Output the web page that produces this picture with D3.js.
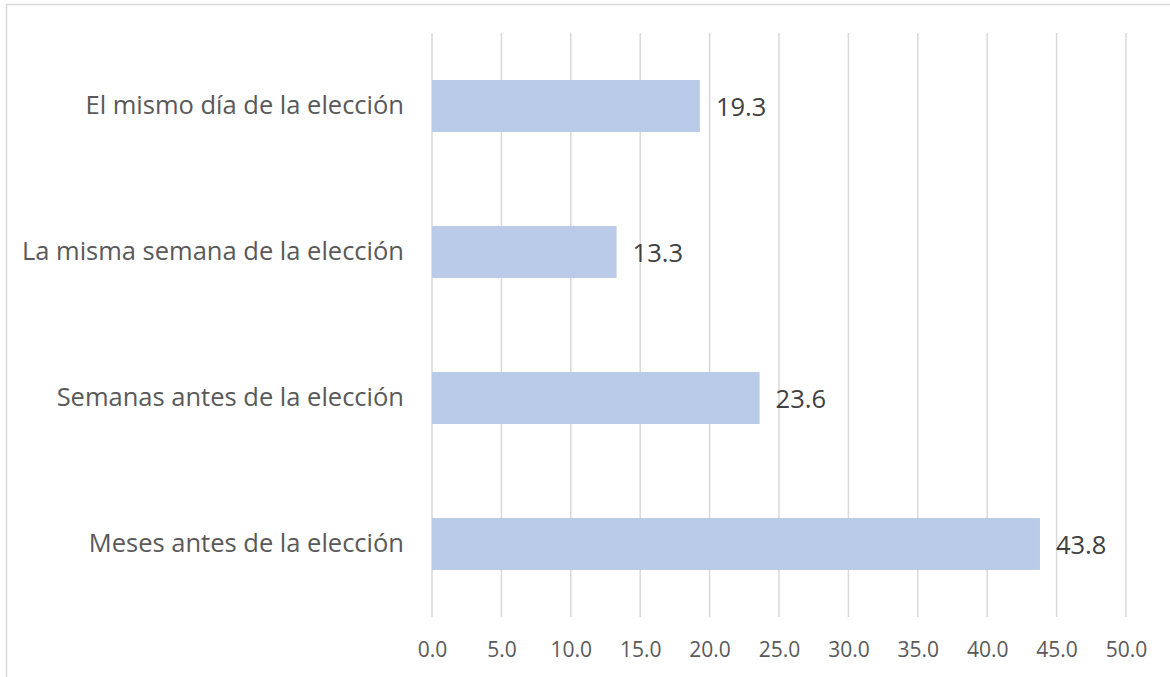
<!DOCTYPE html>
<html>
<head>
<meta charset="utf-8">
<script src="https://cdn.jsdelivr.net/npm/d3@7"></script>
<style>
  body { margin: 0; background: #fff; }
  svg { display: block; }
  text { font-family: "Open Sans", "Liberation Sans", sans-serif; }
</style>
</head>
<body>
<svg id="chart" width="1170" height="677"></svg>
<script>
const categories = [
    "El mismo día de la elección",
    "La misma semana de la elección",
    "Semanas antes de la elección",
    "Meses antes de la elección"
];
const values = [19.3, 13.3, 23.6, 43.8];
const ticks = [0, 5, 10, 15, 20, 25, 30, 35, 40, 45, 50];

const svg = d3.select("#chart");
const margin = { top: 33, left: 432 };

// chart area border (cut off on the right and bottom)
svg.append("rect")
    .attr("x", 6.5).attr("y", 4.5)
    .attr("width", 1300).attr("height", 800)
    .attr("fill", "none")
    .attr("stroke", "#d9d9d9")
    .attr("stroke-width", 1.5);

const g = svg.append("g").attr("transform", `translate(${margin.left},${margin.top})`);

const x = d3.scaleLinear().domain([0, 50]).range([0, 694]);
const y = d3.scaleBand().domain(categories).range([0, 584]).paddingInner(0.644).paddingOuter(0.322);

// gridlines
g.append("g")
    .selectAll("line")
    .data(ticks)
    .join("line")
    .attr("x1", d => x(d)).attr("x2", d => x(d))
    .attr("y1", 0).attr("y2", 584)
    .attr("stroke", "#d9d9d9")
    .attr("stroke-width", 1.5);

// x axis labels
const xAxis = g.append("g")
    .attr("transform", "translate(0,584)")
    .call(d3.axisBottom(x).tickValues(ticks).tickFormat(d3.format(".1f")).tickSize(0).tickPadding(25));
xAxis.select(".domain").remove();
xAxis.selectAll("text")
    .attr("fill", "#595959")
    .style("font-size", "21px");

// y axis labels
const yAxis = g.append("g")
    .call(d3.axisLeft(y).tickSize(0).tickPadding(28));
yAxis.select(".domain").remove();
yAxis.selectAll("text")
    .attr("fill", "#595959")
    .style("font-size", "25.5px");

// bars
g.selectAll(".bar")
    .data(values)
    .join("rect")
    .attr("class", "bar")
    .attr("x", x(0))
    .attr("y", (d, i) => y(categories[i]))
    .attr("width", d => x(d) - x(0))
    .attr("height", y.bandwidth())
    .attr("fill", "#b9cbe8");

// value labels
g.selectAll(".val")
    .data(values)
    .join("text")
    .attr("class", "val")
    .attr("x", d => x(d) + 16)
    .attr("y", (d, i) => y(categories[i]) + y.bandwidth() / 2 + 1)
    .attr("dy", "0.35em")
    .attr("fill", "#404040")
    .style("font-size", "25.5px")
    .text(d => d3.format(".1f")(d));
</script>
</body>
</html>
